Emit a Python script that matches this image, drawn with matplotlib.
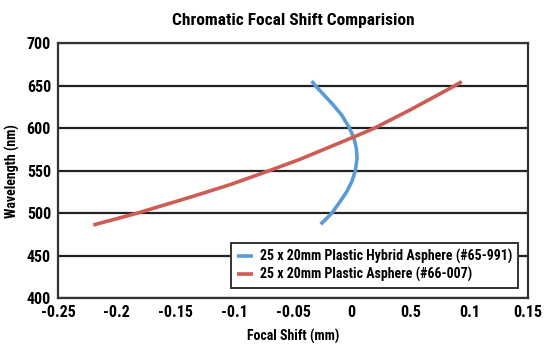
import matplotlib
matplotlib.use('Agg')
from matplotlib import pyplot as plt
import numpy as np

# values
hybrid_shift = [-0.0341, -0.0307, -0.0236, -0.0157, -0.0086, -0.0021, 0.0019, 0.0039,
                0.0045, 0.0030, 0.0, -0.0043, -0.0100, -0.0171, -0.0264]
hybrid_wl = [655.9, 650, 639.4, 627.6, 615.9, 601, 588.5, 576.7,
             564.9, 550, 537.4, 525.6, 513.9, 500.2, 487.3]

asphere_shift = [-0.2200, -0.1830, -0.1377, -0.1036, -0.0710, -0.0440, -0.0009,
                 0.0190, 0.0496, 0.0873, 0.0936]
asphere_wl = [486.5, 500.2, 519.1, 533.9, 550, 563.8, 588.5,
              600.2, 621.8, 650, 655.1]

x_ticks = [-0.25, -0.2, -0.15, -0.1, -0.05, 0, 0.05, 0.1, 0.15]
x_tick_labels = ['-0.25', '-0.2', '-0.15', '-0.1', '-0.05', '0', '0.5', '0.1', '0.15']
y_ticks = [400, 450, 500, 550, 600, 650, 700]

plt.rcParams['font.family'] = ['Roboto Condensed', 'Open Sans Condensed',
                               'Liberation Sans Narrow', 'DejaVu Sans']
plt.rcParams['font.stretch'] = 'condensed'
plt.rcParams['font.weight'] = 'bold'

fig = plt.figure(figsize=(5.5, 3.46), dpi=100)
ax = fig.add_axes([0.1055, 0.1373, 0.8545, 0.737])

ax.plot(hybrid_shift, hybrid_wl, c='#5b9bd5', lw=2.6, solid_capstyle='butt',
        label='25 x 20mm Plastic Hybrid Asphere (#65-991)')
ax.plot(asphere_shift, asphere_wl, c='#cd5c55', lw=2.6, solid_capstyle='butt',
        label='25 x 20mm Plastic Asphere (#66-007)')

ax.set_xlim(-0.25, 0.15)
ax.set_ylim(400, 700)
ax.set_xticks(x_ticks)
ax.set_xticklabels(x_tick_labels, fontweight='bold')
ax.set_yticks(y_ticks)
ax.set_yticklabels([str(v) for v in y_ticks], fontweight='bold')
ax.tick_params(length=0, labelsize=11.5, pad=5)
ax.grid(axis='y', color='#222222', lw=1.6)
ax.set_axisbelow(True)
for s in ax.spines.values():
    s.set_color('#333333')
    s.set_linewidth(1.6)

ax.set_title('Chromatic Focal Shift Comparision', fontsize=12.5, fontweight='bold', pad=13)
ax.set_xlabel('Focal Shift (mm)', fontsize=10, fontweight='bold', labelpad=6)
ax.set_ylabel('Wavelength (nm)', fontsize=10, fontweight='bold', labelpad=5)

leg = ax.legend(loc='lower right', bbox_to_anchor=(0.979, 0.041), borderaxespad=0,
                prop={'size': 10, 'weight': 'bold'},
                frameon=True, fancybox=False, handlelength=1.2, handletextpad=0.5,
                borderpad=0.4, labelspacing=0.25)
leg.get_frame().set_edgecolor('#333333')
leg.get_frame().set_linewidth(1.4)
leg.get_frame().set_alpha(1)

plt.savefig('out.png', dpi=100)
